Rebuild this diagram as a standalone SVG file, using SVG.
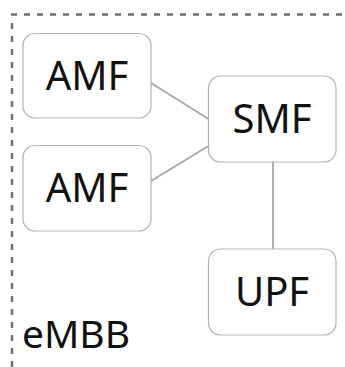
<svg xmlns="http://www.w3.org/2000/svg" width="345" height="367" viewBox="0 0 345 367">
  <style>
    .node rect { fill: #ffffff; stroke: #b3b3b3; stroke-width: 1.2; }
    .node text { font-family: "Noto Sans", "DejaVu Sans", sans-serif; font-size: 40px; fill: #111111; text-anchor: middle; }
    .link { stroke: #a6a6a6; stroke-width: 1.8; fill: none; }
    .frame { stroke: #6e6e6e; stroke-width: 2.4; fill: none; stroke-dasharray: 6 7; }
    .label { font-family: "Noto Sans", "DejaVu Sans", sans-serif; font-size: 39px; fill: #111111; }
  </style>

  <!-- slice boundary: dashed top and left edges -->
  <g id="slice-frame">
    <line class="frame" x1="11" y1="14.5" x2="345" y2="14.5"/>
    <line class="frame" x1="12" y1="23" x2="12" y2="367"/>
    <text class="label" x="22" y="348">eMBB</text>
  </g>

  <g id="connectors">
    <line class="link" x1="151" y1="83" x2="208.5" y2="119"/>
    <line class="link" x1="151" y1="181" x2="208.5" y2="146"/>
    <line class="link" x1="273" y1="162" x2="273" y2="249"/>
  </g>

  <g id="amf-1" class="node">
    <rect x="23" y="33.5" width="128" height="84.5" rx="12"/>
    <text x="87" y="90">AMF</text>
  </g>
  <g id="amf-2" class="node">
    <rect x="23" y="145.5" width="128" height="85.5" rx="12"/>
    <text x="87" y="202">AMF</text>
  </g>
  <g id="smf" class="node">
    <rect x="208.5" y="76" width="127.5" height="86" rx="12"/>
    <text x="272" y="133">SMF</text>
  </g>
  <g id="upf" class="node">
    <rect x="208.5" y="249" width="127.5" height="86" rx="12"/>
    <text x="272" y="306">UPF</text>
  </g>
</svg>
